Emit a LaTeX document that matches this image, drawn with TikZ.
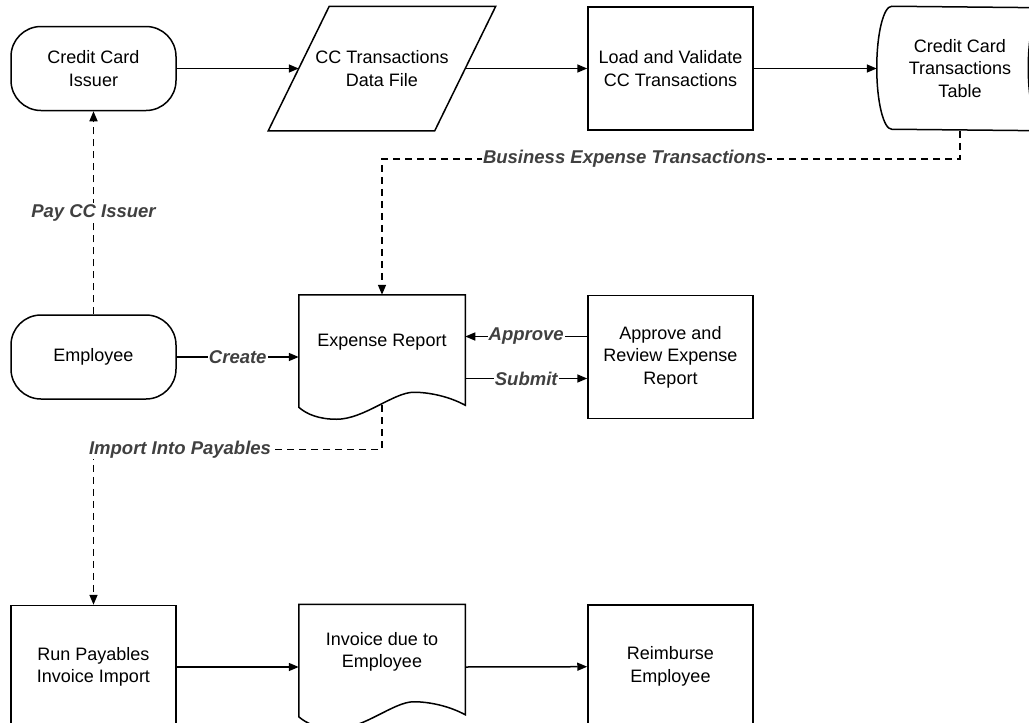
\documentclass[tikz,border=0pt]{standalone}
\usepackage{fontspec}
\setmainfont{Liberation Sans}
\usetikzlibrary{arrows.meta,positioning,calc}

\begin{document}
\begin{tikzpicture}[x=1pt, y=1pt, line width=1.5pt, >={Triangle[length=10pt,width=8pt]}, font=\fontsize{18}{22.5}\selectfont]
	\tikzstyle{rect}=[draw, rectangle, minimum width=165pt, minimum height=123pt, align=center]
	\tikzstyle{term}=[draw, rectangle, rounded corners=30pt, minimum width=165pt, minimum height=84pt, align=center]
	\tikzstyle{blank}=[rectangle, minimum width=165pt, minimum height=123pt, align=center]
	\tikzstyle{docu}=[rectangle, minimum width=165pt, minimum height=94pt, align=center]
	\tikzstyle{lbl}=[fill=white, inner sep=1pt, text=black!75, font=\fontsize{18.5}{22.5}\selectfont\bfseries\itshape]
	\tikzstyle{dashedline}=[dash pattern=on 7pt off 5pt]

	\useasboundingbox (0,0) rectangle (1029,-723);
	\clip (0,0) rectangle (1029,-723);

	\node[term] (iss) at (93.5,-68.5) {Credit Card\\Issuer};
	\node[blank] (datf) [right=122pt of iss] {CC Transactions\\Data File};
	\node[rect] (load) [right=122pt of datf] {Load and Validate\\CC Transactions};
	\node[blank] (tbl) [right=123pt of load] {Credit Card\\Transactions\\Table};

	\node[term] (emp) [below=203pt of iss] {Employee};
	\node[docu] (exprep) [below=164pt of datf] {Expense Report};
	\node[rect] (appr) [below=164pt of load] {Approve and\\Review Expense\\Report};

	\node[rect] (runimp) [below=205pt of emp] {Run Payables\\Invoice Import};
	\node[docu] (invdue) [below=214pt of exprep] {Invoice due to\\Employee};
	\node[rect] (reimb) [below=185pt of appr] {Reimburse\\Employee};

	% outlines of the special shapes
	\draw ([xshift=30.5pt]datf.north west) -- ([xshift=30.5pt]datf.north east) -- ([xshift=-30.5pt]datf.south east) -- ([xshift=-30.5pt]datf.south west) -- cycle;
	\draw ([xshift=15pt]tbl.north west) arc[start angle=90, end angle=270, x radius=15pt, y radius=61.5pt] -- (tbl.south east) arc[start angle=-90, end angle=90, x radius=15pt, y radius=61.5pt] -- cycle;
	\draw (tbl.north east) arc[start angle=90, end angle=270, x radius=15pt, y radius=61.5pt];
	\foreach \docn in {exprep,invdue}
		\draw (\docn.north west) -- (\docn.north east) -- ($(\docn.south east)+(0,-15)$) .. controls ($(\docn.south west)+(150,-6)$) and ($(\docn.south west)+(130,-2)$) .. ($(\docn.south west)+(115,-2)$) .. controls ($(\docn.south west)+(95,-2)$) and ($(\docn.south west)+(65,-29)$) .. ($(\docn.south west)+(38,-29)$) .. controls ($(\docn.south west)+(20,-29)$) and ($(\docn.south west)+(8,-24)$) .. ($(\docn.south west)+(0,-17)$) -- cycle;

	\draw[->] (iss) -- (datf);
	\draw[->] (datf) -- (load);
	\draw[->] (load) -- (tbl);

	\draw[dashedline,->] (tbl.south) -- ++(0,-28) -| node[lbl,pos=0.29] {Business Expense Transactions} (exprep.north);
	\draw[dashedline,->] (emp) -- node[lbl] {Pay CC Issuer} (iss);
	\draw[->] (emp) -- node[lbl] {Create} (emp -| exprep.west);
	\draw[->] ([yshift=20.5pt]appr.west) -- node[lbl] {Approve} ([yshift=20.5pt]appr.west -| exprep.east);
	\draw[->] ([yshift=-21.5pt]appr.west -| exprep.east) -- node[lbl] {Submit} ([yshift=-21.5pt]appr.west);
	\draw[dashedline,->] ([yshift=-15pt]exprep.south) -- ++(0,-44) -| node[lbl,pos=0.35] {Import Into Payables} (runimp.north);

	\draw[->] (runimp) -- (runimp -| invdue.west);
	\draw[->] (runimp -| invdue.east) -- (reimb);
\end{tikzpicture}
\end{document}
